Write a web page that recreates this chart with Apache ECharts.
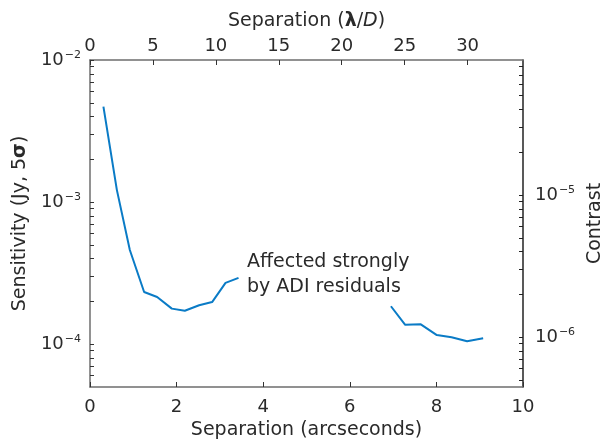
<!DOCTYPE html>
<html>
<head>
<meta charset="utf-8">
<script src="https://cdn.jsdelivr.net/npm/echarts@6/dist/echarts.min.js"></script>
<style>
  html, body { margin: 0; padding: 0; background: #fff; }
  #chart { width: 602px; height: 439px; }
</style>
</head>
<body>
<div id="chart"></div>
<script>
// separation in arcseconds, sensitivity in Jy (5 sigma); null = gap
var separation = [0.31, 0.62, 0.92, 1.25, 1.55, 1.89, 2.19, 2.52, 2.82, 3.13, 3.43, null,
                  6.95, 7.28, 7.64, 8.01, 8.35, 8.71, 9.08];
var sensitivity = [4.7e-3, 1.22e-3, 4.6e-4, 2.33e-4, 2.15e-4, 1.78e-4, 1.72e-4, 1.88e-4, 1.98e-4, 2.7e-4, 2.93e-4, null,
                   1.85e-4, 1.37e-4, 1.38e-4, 1.16e-4, 1.12e-4, 1.05e-4, 1.1e-4];

var sensLabels = [1e-4, 1e-3, 1e-2];
var sensTicks = [6e-5, 7e-5, 8e-5, 9e-5, 1e-4, 2e-4, 3e-4, 4e-4, 5e-4, 6e-4, 7e-4, 8e-4, 9e-4,
                 1e-3, 2e-3, 3e-3, 4e-3, 5e-3, 6e-3, 7e-3, 8e-3, 9e-3, 1e-2];
var contrastLabels = [1e-6, 1e-5];
var contrastTicks = [5e-7, 6e-7, 7e-7, 8e-7, 9e-7, 1e-6, 2e-6, 3e-6, 4e-6, 5e-6, 6e-6, 7e-6, 8e-6, 9e-6,
                     1e-5, 2e-5, 3e-5, 4e-5, 5e-5, 6e-5, 7e-5, 8e-5];

var sensMin = 5e-5, sensMax = 1e-2;
var contrastPerJy = Math.pow(10, -2.05);   // contrast = sensitivity * factor
var lambdaDPerArcsec = 3.44;

var FONT = 'DejaVu Sans';
var TXT = '#2a2a2a';

var data = separation.map(function (s, i) {
  return s === null ? [null, null] : [s, sensitivity[i]];
});

// right axis lives on the sensitivity scale; contrast values are mapped onto it
function toSens(c) { return c / contrastPerJy; }

function pow10Label(v) {
  var n = Math.round(Math.log10(v));
  return '10{sup|' + String(n).replace('-', '\u2212') + '}';
}
var powRich = {
  sup: { fontSize: 11, fontFamily: FONT, color: TXT, padding: [0, 0, 10, 1] }
};

function txt(size, extra) {
  var o = { fontSize: size, color: TXT, fontFamily: FONT };
  for (var k in extra) o[k] = extra[k];
  return o;
}

var chart = echarts.init(document.getElementById('chart'));

var options = {
  animation: false,
  textStyle: { fontFamily: FONT },
  grid: { left: 90, right: 79, top: 60, bottom: 52, outerBoundsMode: 'none' },
  xAxis: [{
    type: 'value',
    position: 'bottom',
    min: 0, max: 10, interval: 2,
    name: 'Separation (arcseconds)',
    nameLocation: 'middle',
    nameGap: 34,
    nameTextStyle: txt(19),
    axisLine: { onZero: false, lineStyle: { color: '#6e6e6e', width: 1.5 } },
    axisTick: { inside: true, length: 5, lineStyle: { color: '#333' } },
    axisLabel: txt(18, { margin: 11 }),
    splitLine: { show: false }
  }, {
    type: 'value',
    position: 'top',
    min: 0, max: 10 * lambdaDPerArcsec, interval: 5,
    name: 'Separation ({b|\u03bb}/{i|D})',
    nameLocation: 'middle',
    nameGap: 29,
    nameTextStyle: txt(19, {
      rich: {
        b: txt(19, { fontWeight: 'bold' }),
        i: txt(19, { fontStyle: 'italic' })
      }
    }),
    axisLine: { onZero: false, lineStyle: { color: '#6e6e6e', width: 1.5 } },
    axisTick: { inside: true, length: 5, lineStyle: { color: '#333' } },
    axisLabel: txt(18, { margin: 5, showMaxLabel: false }),
    splitLine: { show: false }
  }],
  yAxis: [{
    type: 'log', logBase: 10,
    position: 'left',
    min: sensMin, max: sensMax,
    name: 'Sensitivity (Jy, 5{b|\u03c3})',
    nameLocation: 'middle',
    nameGap: 55,
    nameTextStyle: txt(19, { rich: { b: txt(19, { fontWeight: 'bold' }) } }),
    axisLine: { show: true, onZero: false, lineStyle: { color: '#6e6e6e', width: 1.5 } },
    axisTick: { show: true, inside: true, length: 4, customValues: sensTicks, lineStyle: { color: '#333' } },
    axisLabel: txt(18, { margin: 9, customValues: sensLabels, formatter: pow10Label, rich: powRich }),
    splitLine: { show: false }
  }, {
    type: 'log', logBase: 10,
    position: 'right',
    min: sensMin, max: sensMax,
    name: 'Contrast',
    nameLocation: 'middle',
    nameGap: 55,
    nameTextStyle: txt(19),
    axisLine: { show: true, onZero: false, lineStyle: { color: '#222', width: 1.5 } },
    axisTick: { show: true, inside: true, length: 4, customValues: contrastTicks.map(toSens), lineStyle: { color: '#222' } },
    axisLabel: txt(18, {
      margin: 12,
      customValues: contrastLabels.map(toSens),
      formatter: function (v) { return pow10Label(v * contrastPerJy); },
      rich: powRich
    }),
    splitLine: { show: false }
  }],
  graphic: [{
    type: 'text',
    left: 247, top: 250,
    style: {
      text: 'Affected strongly\nby ADI residuals',
      font: '19px "DejaVu Sans"',
      fill: TXT,
      lineHeight: 25
    }
  }],
  series: [{
    type: 'line',
    xAxisIndex: 0,
    yAxisIndex: 0,
    data: data,
    connectNulls: false,
    showSymbol: false,
    symbol: 'none',
    lineStyle: { color: '#0a7bc6', width: 2 }
  }]
};

chart.setOption(options);
</script>
</body>
</html>
